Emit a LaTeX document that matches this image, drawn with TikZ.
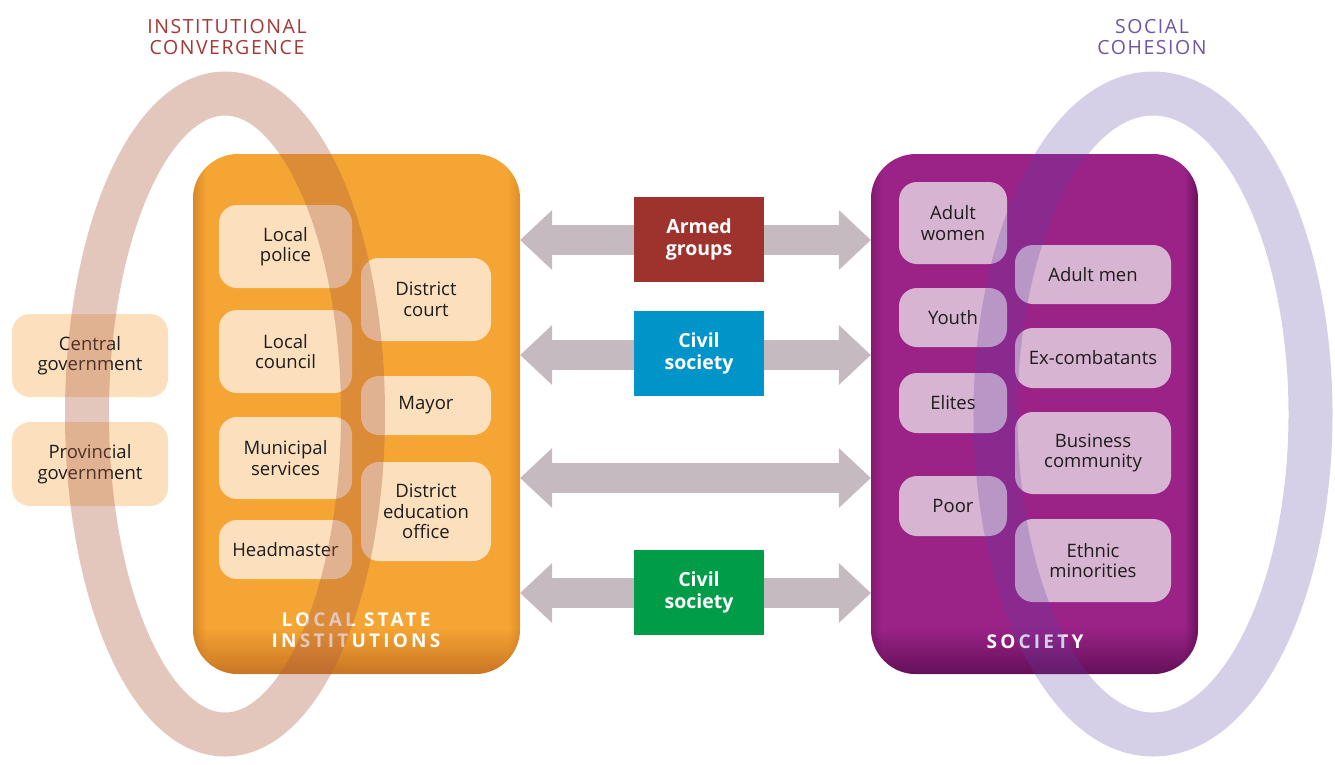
\documentclass[tikz,border=0pt]{standalone}
\usepackage{fontspec}
\setmainfont{Open Sans}
\usetikzlibrary{arrows.meta,fadings}
\definecolor{orangebox}{RGB}{245,165,51}
\definecolor{orangedark}{RGB}{196,112,36}
\definecolor{purplebox}{RGB}{155,35,135}
\definecolor{purpledark}{RGB}{95,14,84}
\definecolor{peach}{RGB}{252,224,190}
\definecolor{lilac}{RGB}{215,180,210}
\definecolor{arrowgray}{RGB}{196,186,191}
\definecolor{armedred}{RGB}{158,50,45}
\definecolor{civilblue}{RGB}{0,148,201}
\definecolor{civilgreen}{RGB}{0,156,72}
\definecolor{ringbrown}{RGB}{173,91,62}
\definecolor{ringviolet}{RGB}{92,64,164}
\definecolor{titlered}{RGB}{165,55,52}
\definecolor{titlepurple}{RGB}{112,84,165}
\definecolor{textblack}{RGB}{30,28,28}
\newcommand\dgboxfont{\fontsize{18.5}{20.5}\selectfont}
\newcommand\dgtagfont{\fontsize{19.5}{21.5}\selectfont\bfseries}
\newcommand\dgtitlefont{\fontsize{19.5}{21}\selectfont\addfontfeatures{LetterSpace=8}}
\newcommand\dgheadfont{\fontsize{19}{20.5}\selectfont\bfseries\addfontfeatures{LetterSpace=17}}
\begin{document}
\begin{tikzpicture}[x=1pt,y=-1pt,
  bigbox/.style={rectangle, rounded corners=45pt, minimum width=327pt, minimum height=520pt, inner sep=0pt},
  peachbox/.style={rectangle, rounded corners=18pt, fill=peach, inner sep=0pt, align=center, text=textblack, font=\dgboxfont},
  lilacbox/.style={rectangle, rounded corners=18pt, fill=lilac, inner sep=0pt, align=center, text=textblack, font=\dgboxfont},
  tag/.style={rectangle, minimum width=130pt, minimum height=85pt, inner sep=0pt, align=center, text=white, font=\dgtagfont},
  biarrow/.style={draw=arrowgray, line width=30pt,
    {Triangle[length=32pt,width=60pt,line width=0pt]}-{Triangle[length=32pt,width=60pt,line width=0pt]}},
  ringstyle/.style={line width=44pt, draw opacity=#1},
  titletext/.style={align=center, inner sep=0pt, font=\dgtitlefont},
  headtext/.style={align=center, inner sep=0pt, text=white, font=\dgheadfont}
]
\useasboundingbox (0,0) rectangle (1335,764);

% ---- big boxes
\node[bigbox, fill=orangebox] (LSI) at (356.5,414) {};
\node[bigbox, fill=purplebox] (SOC) at (1034.5,414) {};
\begin{scope}
  \clip[rounded corners=45pt] (193,154) rectangle (520,674);
  \fill[orangedark, path fading=east, fill opacity=0.55] (193,154) rectangle (206,674);
  \fill[orangedark, path fading=west, fill opacity=0.45] (508,154) rectangle (520,674);
  \fill[orangedark, path fading=north, fill opacity=0.9] (193,628) rectangle (520,674);
\end{scope}
\begin{scope}
  \clip[rounded corners=45pt] (871,154) rectangle (1198,674);
  \fill[purpledark, path fading=east, fill opacity=0.4] (871,154) rectangle (882,674);
  \fill[purpledark, path fading=west, fill opacity=0.8] (1184,154) rectangle (1198,674);
  \fill[purpledark, path fading=north, fill opacity=0.9] (871,628) rectangle (1198,674);
\end{scope}

% ---- outer left boxes
\node[peachbox, minimum width=156pt, minimum height=83pt] (central) at (90,355.5) {Central\\government};
\node[peachbox, minimum width=156pt, minimum height=84pt] (provincial) at (90,464) {Provincial\\government};

% ---- local state institutions
\node[peachbox, minimum width=133pt, minimum height=83pt] (police) at (285.5,246.5) {Local\\police};
\node[peachbox, minimum width=133pt, minimum height=83pt] (council) at (285.5,351.5) {Local\\council};
\node[peachbox, minimum width=133pt, minimum height=82pt] (municipal) at (285.5,458) {Municipal\\services};
\node[peachbox, minimum width=133pt, minimum height=59pt] (headmaster) at (285.5,549.5) {Headmaster};
\node[peachbox, minimum width=130pt, minimum height=83pt] (court) at (426,299.5) {District\\court};
\node[peachbox, minimum width=130pt, minimum height=59pt] (mayor) at (426,405.5) {Mayor};
\node[peachbox, minimum width=130pt, minimum height=99pt] (education) at (426,511.5) {District\\education\\office};
\node[headtext] (lsititle) at (356,630) {LOCAL STATE\\INSTITUTIONS};

% ---- society
\node[lilacbox, minimum width=108pt, minimum height=82pt] (women) at (953,223) {Adult\\women};
\node[lilacbox, minimum width=108pt, minimum height=59pt] (youth) at (953,317.5) {Youth};
\node[lilacbox, minimum width=108pt, minimum height=60pt] (elites) at (953,403) {Elites};
\node[lilacbox, minimum width=108pt, minimum height=60pt] (poor) at (953,506) {Poor};
\node[lilacbox, minimum width=156pt, minimum height=59pt] (men) at (1093,274.5) {Adult men};
\node[lilacbox, minimum width=156pt, minimum height=60pt] (excomb) at (1093,358) {Ex-combatants};
\node[lilacbox, minimum width=156pt, minimum height=82pt] (business) at (1093,453) {Business\\community};
\node[lilacbox, minimum width=156pt, minimum height=83pt] (ethnic) at (1093,560.5) {Ethnic\\minorities};
\node[headtext] (soctitle) at (1035,642) {SOCIETY};

% ---- arrows and tags
\coordinate (row1) at (699,240);
\coordinate (row2) at (699,355);
\coordinate (row3) at (699,478);
\coordinate (row4) at (699,593);
\draw[biarrow] (LSI.east |- row1) -- (SOC.west |- row1);
\draw[biarrow] (LSI.east |- row2) -- (SOC.west |- row2);
\draw[biarrow] (LSI.east |- row3) -- (SOC.west |- row3);
\draw[biarrow] (LSI.east |- row4) -- (SOC.west |- row4);
\node[tag, fill=armedred] (armed) at (699,239.5) {Armed\\groups};
\node[tag, fill=civilblue] (civilA) at (699,353.5) {Civil\\society};
\node[tag, fill=civilgreen] (civilB) at (699,592.5) {Civil\\society};

% ---- titles
\node[titletext, text=titlered] (convergence) at (227,37) {INSTITUTIONAL\\CONVERGENCE};
\node[titletext, text=titlepurple] (cohesion) at (1152,37) {SOCIAL\\COHESION};

% ---- rings
\draw[ringstyle=0.34, draw=ringbrown] (225,414) ellipse [x radius=138, y radius=320.5];
\draw[ringstyle=0.25, draw=ringviolet] (1153,414) ellipse [x radius=157.5, y radius=320.5];
\end{tikzpicture}
\end{document}
